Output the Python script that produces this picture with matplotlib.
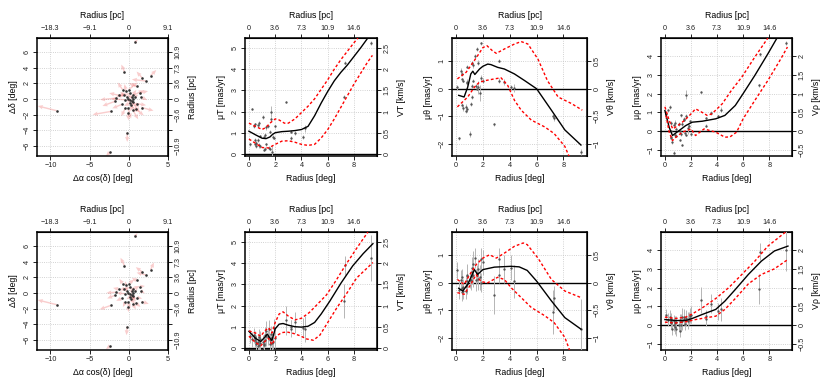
import numpy as np
import matplotlib
matplotlib.use("Agg")
import matplotlib.pyplot as plt

plt.rcParams['font.family'] = ['Liberation Sans', 'DejaVu Sans']

# --- star positions on the sky [deg] ---
dx = [0.8, -0.55, 1.7, 2.8, 2.2, -9.2, -2.3, -0.2, -2.4,
      -0.8, -0.35, 0.0, -1.2, 0.15, 0.6, 1.0, 1.45, 1.55, -1.65, -1.75,
      -0.45, -0.1, 0.2, 0.4, 0.5, 0.8, -0.9, -0.45, -0.1, 0.3,
      0.5, 0.9, 1.65, -0.1, 0.6, 0.2, -0.2, 0.35, -0.6, 1.0]
dy = [7.25, 3.5, 2.7, 3.0, 2.3, -1.5, -1.6, -4.3, -6.8,
      1.2, 1.0, 1.2, 0.45, 0.7, 0.5, 1.6, 0.8, 0.25, 0.1, -0.3,
      -0.1, 0.0, -0.1, -0.25, 0.05, 0.25, -0.7, -1.2, -1.2, -0.8,
      -1.4, -1.3, -1.1, -1.85, -0.4, -0.5, 0.3, 0.25, 0.5, -0.6]

# proper-motion arrows [deg], top row and bottom row
du1 = [0.35, -0.4, -0.7, 0.7, -1.8, -2.4, -2.3, 0.0, -0.5,
       -0.6, -0.2, 1.1, -1.3, -1.5, 1.3, -1.0, 1.0, 0.8, -2.0, -1.6,
       -1.8, 0.3, 1.2, 0.9, -0.7, 0.4, -1.2, -0.5, 0.4, 0.8,
       0.7, 1.0, 1.5, 0.1, -0.4, -0.8, -0.9, 0.6, -1.0, 1.2]
dv1 = [0.35, 0.9, 0.8, 0.7, 0.2, 0.6, -0.4, -1.2, -0.5,
       0.9, 0.9, 0.9, 0.3, -0.3, 0.6, 0.4, 0.2, -0.4, -0.2, -0.6,
       0.1, -0.6, -1.6, -0.8, 0.5, 0.3, -0.5, -1.0, -1.3, -0.9,
       -1.2, -0.8, -0.4, -0.9, -1.2, -0.4, 0.6, 0.9, -0.2, -0.2]
du2 = [0.3, -0.5, -0.8, 0.4, -1.2, -2.4, -1.4, -0.1, -0.5,
       -0.4, -0.1, 0.7, -0.8, -0.9, 0.8, -0.6, 0.6, 0.5, -1.2, -1.0,
       -1.1, 0.2, 0.7, 0.5, -0.4, 0.3, -0.7, -0.3, 0.3, 0.5,
       0.4, 0.6, 0.9, 0.1, -0.3, -0.5, -0.6, 0.4, -0.6, 0.7]
dv2 = [0.4, 1.0, 0.6, 0.9, 0.3, 0.6, -0.5, -1.1, -0.4,
       0.6, 0.5, 0.5, 0.2, -0.2, 0.4, 0.3, 0.1, -0.3, -0.1, -0.4,
       0.1, -0.4, -1.0, -0.5, 0.3, 0.2, -0.3, -0.6, -0.8, -0.6,
       -0.7, -0.5, -0.3, -0.6, -0.7, -0.3, 0.4, 0.6, -0.1, -0.1]

# --- per-star radius [deg] and proper-motion components [mas/yr] ---
rad = [7.3, 3.54, 3.19, 4.10, 3.18, 9.32, 2.80, 4.30, 7.21,
       1.44, 1.06, 1.20, 1.28, 0.72, 0.78, 1.89, 1.65, 1.57, 1.65, 1.78,
       0.46, 0.10, 0.22, 0.47, 0.50, 0.84, 1.14, 1.28, 1.20, 0.85,
       1.49, 1.58, 1.98, 1.85, 0.72, 0.54, 0.36, 0.43, 0.78, 1.17]

muT1 = [4.3, 1.0, 0.75, 0.8, 1.05, 5.25, 2.45, 1.2, 2.7,
        1.3, 1.75, 0.9, 0.45, 1.35, 0.4, 0.75, 2.0, 0.25, 1.65, 0.1,
        0.45, 0.45, 2.1, 1.4, 0.5, 0.35, 0.8, 1.25, 0.25, 0.85,
        0.3, 1.05, 1.3, 0.8, 0.65, 0.35, 1.3, 0.65, 1.45, 0.2]
muth1 = [-1.08, 0.25, 0.3, 0.05, 1.02, -2.3, -1.3, 0.02, -1.0,
         1.2, -1.65, 0.95, 0.3, -0.65, 0.25, 1.65, 0.05, 1.45, 0.95, -0.15,
         0.35, 0.05, -1.8, 0.55, -0.7, -0.75, -0.55, 0.85, -0.3, 0.8,
         0.1, 0.0, 0.3, 0.4, -0.8, 0.3, 0.65, -0.6, 0.2, 0.1]
murho1 = [4.1, 0.95, 0.3, 0.8, 0.7, 4.7, 2.1, 1.15, 2.45,
          0.6, 0.4, 0.85, -0.75, 0.35, -0.2, 0.55, 1.95, -0.1, 0.8, 0.15,
          -0.3, 0.9, 1.15, -0.35, 0.45, -0.25, 0.0, 0.4, -0.15, 0.1,
          0.65, -0.2, -0.15, 0.3, -1.15, -0.6, 1.3, 0.0, 0.45, -0.45]
err1 = [0.08, 0.1, 0.08, 0.08, 0.06, 0.1, 0.06, 0.15, 0.08,
        0.08, 0.1, 0.08, 0.06, 0.08, 0.1, 0.06, 0.25, 0.08, 0.1, 0.3,
        0.06, 0.08, 0.05, 0.08, 0.1, 0.08, 0.06, 0.1, 0.08, 0.06,
        0.08, 0.06, 0.08, 0.1, 0.08, 0.06, 0.1, 0.08, 0.12, 0.06]

muT2 = [3.9, 1.2, 0.9, 0.95, 1.0, 4.25, 1.3, 0.9, 2.2,
        0.5, 0.3, 0.6, 0.8, 0.3, 0.15, 0.95, 0.45, 0.2, 0.65, 0.25,
        0.5, 0.55, 0.4, 0.35, 0.2, 0.4, 0.2, 0.55, 0.35, 0.25,
        0.9, 0.35, 0.45, 0.3, 0.1, 0.3, 0.6, 0.45, 0.5, 0.15]
muth2 = [-0.55, 0.5, 0.85, 0.55, 0.3, -1.7, -0.45, 0.05, -1.05,
         0.9, 0.1, 0.55, 0.3, -0.1, 0.05, 0.85, 0.5, 0.3, 0.15, 0.2,
         -0.2, 0.45, -0.25, 0.2, -0.3, 0.3, 0.1, 0.7, 0.25, -0.05,
         0.1, 0.35, 0.75, 0.0, -0.3, -0.15, 0.1, -0.35, 0.25, 0.4]
murho2 = [3.9, 1.15, 0.35, 0.75, 0.5, 4.0, 1.35, 0.85, 1.95,
          0.35, 0.0, 0.2, 0.45, 0.25, -0.1, 0.5, 0.3, 0.05, 0.4, 0.25,
          0.15, 0.55, 0.3, 0.1, 0.35, -0.2, -0.3, 0.2, 0.0, 0.15,
          0.45, 0.3, 0.55, 0.35, 0.0, -0.2, 0.45, 0.2, 0.1, 0.3]
err2 = [0.45, 0.5, 0.4, 0.45, 0.3, 1.1, 0.7, 0.6, 0.8,
        0.35, 0.3, 0.4, 0.45, 0.3, 0.35, 0.4, 0.35, 0.3, 0.4, 0.45,
        0.3, 0.3, 0.35, 0.3, 0.3, 0.4, 0.35, 0.45, 0.3, 0.35,
        0.4, 0.3, 0.45, 0.35, 0.3, 0.3, 0.35, 0.3, 0.4, 0.3]

# --- model curves (median, upper, lower) ---
T1_x = [0.0, 0.5, 1.0, 1.3, 1.6, 1.8, 2.0, 2.5, 3.0, 3.5, 4.0, 4.5, 5.0, 5.5, 6.0, 6.5, 7.0, 7.5, 8.0, 8.5, 9.05]
T1_y = [1.07, 0.9, 0.74, 0.72, 0.8, 0.92, 1.0, 1.05, 1.07, 1.1, 1.15, 1.3, 1.8, 2.4, 2.95, 3.45, 3.85, 4.2, 4.6, 5.0, 5.47]
T1u_x = [0.0, 0.5, 1.0, 1.3, 1.6, 2.0, 2.3, 2.7, 3.0, 3.5, 4.0, 4.5, 5.0, 5.5, 6.0, 6.5, 7.0, 7.5, 8.0, 8.3]
T1u_y = [1.45, 1.3, 1.15, 1.25, 1.45, 1.65, 1.6, 1.45, 1.45, 1.65, 1.95, 2.25, 2.6, 3.05, 3.5, 4.0, 4.45, 4.85, 5.25, 5.47]
T1l_x = [0.0, 0.5, 1.0, 1.5, 2.0, 2.5, 3.0, 3.5, 4.0, 4.5, 5.0, 5.5, 6.0, 6.5, 7.0, 7.5, 8.0, 8.5, 9.0, 9.4]
T1l_y = [0.7, 0.5, 0.3, 0.28, 0.45, 0.6, 0.62, 0.55, 0.45, 0.4, 0.45, 0.75, 1.15, 1.65, 2.2, 2.75, 3.3, 3.8, 4.3, 4.65]

th1_x = [0.2, 0.6, 0.87, 1.1, 1.25, 1.4, 1.75, 2.0, 2.36, 2.6, 3.1, 3.6, 4.35, 5.1, 6.0, 7.1, 8.1, 9.3]
th1_y = [-0.24, -0.3, 0.06, 0.54, 0.64, 0.52, 0.72, 0.82, 0.9, 0.88, 0.78, 0.72, 0.54, 0.3, 0.0, -0.78, -1.5, -2.05]
th1u_x = [0.1, 0.75, 1.1, 1.6, 2.0, 2.3, 2.7, 3.0, 3.6, 4.35, 4.85, 5.35, 6.1, 6.8, 7.6, 8.6, 9.4]
th1u_y = [0.36, 0.6, 0.84, 1.2, 1.5, 1.57, 1.39, 1.29, 1.45, 1.63, 1.72, 1.63, 1.08, 0.3, -0.3, -0.54, -0.78]
th1l_x = [0.1, 0.87, 1.37, 1.74, 2.2, 2.86, 3.35, 3.85, 4.35, 4.85, 5.6, 6.6, 7.3, 8.1, 8.45]
th1l_y = [-0.66, -0.3, 0.06, 0.24, 0.3, 0.36, 0.4, 0.12, -0.42, -0.78, -1.14, -1.39, -1.63, -2.1, -2.5]

rh1_x = [0.0, 0.33, 0.58, 1.1, 1.6, 2.1, 2.86, 3.9, 4.6, 5.4, 6.0, 6.9, 7.9, 8.6]
rh1_y = [1.1, 0.2, -0.23, 0.04, 0.3, 0.48, 0.53, 0.66, 0.84, 1.37, 2.0, 2.97, 4.12, 4.96]
rh1u_x = [0.0, 0.33, 0.6, 1.0, 1.5, 2.0, 2.35, 2.86, 3.24, 3.6, 4.4, 5.1, 5.9, 6.9, 7.9]
rh1u_y = [1.3, 0.57, 0.12, 0.3, 0.57, 0.92, 1.19, 1.0, 0.84, 0.92, 1.46, 2.17, 2.88, 3.95, 4.96]
rh1l_x = [0.08, 0.33, 0.58, 0.84, 1.34, 1.7, 2.0, 2.35, 3.0, 3.9, 4.6, 5.0, 5.5, 6.0, 6.9, 7.9, 8.9, 9.4]
rh1l_y = [0.84, -0.05, -0.5, -0.32, -0.05, 0.04, 0.12, -0.23, 0.12, -0.05, -0.32, -0.3, -0.05, 0.66, 1.64, 2.7, 3.86, 4.48]

T2_x = [0.0, 0.5, 0.9, 1.2, 1.4, 1.6, 1.75, 2.0, 2.3, 2.6, 3.0, 3.5, 4.0, 4.5, 5.0, 5.5, 6.15, 7.0, 7.9, 8.7, 9.44]
T2_y = [0.78, 0.45, 0.3, 0.5, 0.65, 0.45, 0.35, 0.9, 1.12, 1.15, 1.07, 1.0, 0.98, 1.02, 1.2, 1.6, 2.2, 3.05, 3.87, 4.45, 4.92]
T2u_x = [0.0, 0.5, 0.9, 1.2, 1.5, 1.75, 2.0, 2.3, 2.6, 3.0, 3.5, 4.0, 4.6, 5.2, 5.9, 6.6, 7.4, 8.2, 9.06]
T2u_y = [0.8, 0.7, 0.55, 0.8, 0.95, 0.7, 1.2, 1.6, 1.7, 1.5, 1.32, 1.4, 1.67, 2.05, 2.5, 3.15, 3.95, 4.7, 5.47]
T2l_x = [0.0, 0.5, 0.9, 1.2, 1.5, 1.75, 2.1, 2.5, 2.9, 3.4, 3.9, 4.4, 4.9, 5.4, 6.0, 6.7, 7.4, 8.2, 9.44]
T2l_y = [0.55, 0.25, 0.1, 0.3, 0.45, 0.15, 0.57, 0.72, 0.75, 0.68, 0.57, 0.42, 0.36, 0.6, 1.2, 1.9, 2.53, 3.3, 4.03]

th2_x = [0.2, 0.5, 0.87, 1.37, 1.6, 2.0, 2.86, 4.1, 4.7, 5.3, 6.0, 7.1, 8.1, 9.3]
th2_y = [-0.2, -0.3, -0.06, 0.48, 0.3, 0.48, 0.57, 0.6, 0.58, 0.45, 0.06, -0.66, -1.27, -1.69]
th2u_x = [0.1, 0.6, 1.1, 1.5, 2.0, 2.5, 3.0, 3.6, 4.35, 5.0, 5.3, 6.1, 7.1, 8.1, 9.3]
th2u_y = [0.12, -0.06, 0.36, 0.66, 0.9, 1.02, 0.9, 1.08, 1.33, 1.45, 1.39, 0.9, 0.12, -0.3, -0.54]
th2l_x = [0.1, 0.6, 1.1, 1.5, 1.86, 2.36, 3.1, 3.6, 4.1, 4.85, 5.6, 6.6, 7.3, 8.1, 8.45]
th2l_y = [-0.36, -0.42, -0.06, 0.3, 0.04, 0.0, 0.2, 0.12, -0.18, -0.54, -0.9, -1.2, -1.45, -1.99, -2.45]

rh2_x = [0.0, 0.84, 1.6, 2.1, 2.86, 3.9, 4.6, 5.4, 6.4, 7.4, 8.4, 9.44]
rh2_y = [0.3, 0.25, 0.25, 0.36, 0.57, 0.84, 1.28, 1.9, 2.7, 3.41, 3.95, 4.21]
rh2u_x = [0.0, 0.84, 1.6, 2.1, 2.86, 3.9, 4.9, 5.9, 6.9, 7.9, 9.3]
rh2u_y = [0.43, 0.36, 0.43, 0.6, 0.92, 1.42, 2.0, 2.7, 3.41, 4.21, 4.98]
rh2l_x = [0.0, 0.84, 1.6, 2.35, 3.1, 3.9, 4.6, 5.4, 6.4, 7.4, 8.4, 9.44]
rh2l_y = [0.16, 0.12, 0.18, 0.3, 0.39, 0.48, 0.84, 1.42, 2.2, 2.7, 3.0, 3.5]

# axis tick labels
sky_x_ticks = [-10, -5, 0, 5]
sky_x_pc = ['−18.3', '−9.1', '0', '9.1']
sky_y_ticks = [-6, -4, -2, 0, 2, 4, 6]
sky_y_pc = ['−10.9', '', '−3.6', '0', '3.6', '7.3', '10.9']
rad_ticks = [0, 2, 4, 6, 8]
rad_pc = ['0', '3.6', '7.3', '10.9', '14.6']

W, H = 830, 388
fig = plt.figure(figsize=(W / 100, H / 100), dpi=100)
cols = [(37, 168), (245, 377), (452, 587), (661, 792)]
rows = [(38, 156), (232, 350)]
FS_TICK = 5.2
FS_LAB = 6.3
TICK_KW = dict(length=2.8, width=0.7, pad=1.8, labelsize=FS_TICK, colors='#222222')


def make_ax(col, row):
    l, r = cols[col]
    t, b = rows[row]
    ax = fig.add_axes([l / W, 1 - b / H, (r - l) / W, (b - t) / H])
    for s in ax.spines.values():
        s.set_linewidth(1.1)
    ax.tick_params(**TICK_KW)
    ax.grid(True, ls=':', color='#c4c4c4', lw=0.6)
    ax.set_axisbelow(True)
    return ax


def decorate(ax, xt, xtl, yt, ytl, ylab, rlab, xlab):
    ax.set_xticks(xt)
    ax.set_xticklabels([str(v).replace('-', '−') for v in xt])
    for lab in ax.get_yticklabels():
        lab.set_rotation(90)
        lab.set_va('center')
    sec = ax.secondary_xaxis('top')
    sec.set_xticks(xt, labels=xtl)
    sec.tick_params(**TICK_KW)
    sec.set_xlabel('Radius [pc]', fontsize=FS_LAB, labelpad=5)
    secy = ax.secondary_yaxis('right')
    secy.set_yticks(yt, labels=ytl)
    secy.tick_params(**TICK_KW)
    for lab in secy.get_yticklabels():
        lab.set_rotation(90)
        lab.set_va('center')
    secy.set_ylabel(rlab, fontsize=FS_LAB, labelpad=5)
    ax.set_xlabel(xlab, fontsize=FS_LAB, labelpad=3)
    ax.set_ylabel(ylab, fontsize=FS_LAB, labelpad=4)


def sky_panel(row, du, dv):
    ax = make_ax(0, row)
    ax.quiver(dx, dy, du, dv, angles='xy', scale_units='xy', scale=1,
              color=(0.92, 0.3, 0.3, 0.28), width=0.011, headwidth=3,
              headlength=3.5, headaxislength=3.2, zorder=2)
    ax.scatter(dx, dy, s=3.5, color='#333333', zorder=3, linewidths=0)
    ax.set_xlim(-11.7, 5)
    ax.set_ylim(-7.3, 7.8)
    ax.set_yticks(sky_y_ticks)
    ax.set_yticklabels([str(v).replace('-', '−') for v in sky_y_ticks])
    decorate(ax, sky_x_ticks, sky_x_pc, sky_y_ticks, sky_y_pc,
             'Δδ [deg]', 'Radius [pc]', 'Δα cos(δ) [deg]')


def radial_panel(col, row, vals, errs, curves, ylim, yt, vt, sym):
    ax = make_ax(col, row)
    ax.axhline(0, color='black', lw=1.0, zorder=2)
    ax.errorbar(rad, vals, yerr=errs, fmt='o', ms=1.7, mfc='#555555',
                mec='#555555', mew=0, ecolor='#b5b5b5', elinewidth=0.7,
                capsize=1.8, capthick=0.7, zorder=3)
    (mx, my), (ux, uy), (lx, ly) = curves
    ax.plot(mx, my, color='black', lw=1.0, zorder=4)
    ax.plot(ux, uy, color='red', lw=1.0, ls=(0, (2, 1.6)), zorder=4)
    ax.plot(lx, ly, color='red', lw=1.0, ls=(0, (2, 1.6)), zorder=4)
    ax.set_xlim(-0.3, 9.75)
    ax.set_ylim(*ylim)
    ax.set_yticks(yt)
    ax.set_yticklabels([str(v).replace('-', '−') for v in yt])
    vlabels = [('%g' % (v / 2)).replace('-', '−') for v in vt]
    decorate(ax, rad_ticks, rad_pc, vt, vlabels,
             'μ%s [mas/yr]' % sym, 'V%s [km/s]' % sym, 'Radius [deg]')


for row, (du, dv) in enumerate([(du1, dv1), (du2, dv2)]):
    sky_panel(row, du, dv)

radial_panel(1, 0, muT1, err1, [(T1_x, T1_y), (T1u_x, T1u_y), (T1l_x, T1l_y)],
             (-0.1, 5.47), [0, 1, 2, 3, 4, 5], [0, 1, 2, 3, 4, 5], 'T')
radial_panel(2, 0, muth1, err1, [(th1_x, th1_y), (th1u_x, th1u_y), (th1l_x, th1l_y)],
             (-2.45, 1.85), [-2, -1, 0, 1], [-2, -1, 0, 1], 'θ')
radial_panel(3, 0, murho1, err1, [(rh1_x, rh1_y), (rh1u_x, rh1u_y), (rh1l_x, rh1l_y)],
             (-1.32, 4.96), [-1, 0, 1, 2, 3, 4], [-1, 0, 1, 2, 3, 4], 'ρ')
radial_panel(1, 1, muT2, err2, [(T2_x, T2_y), (T2u_x, T2u_y), (T2l_x, T2l_y)],
             (-0.1, 5.47), [0, 1, 2, 3, 4, 5], [0, 1, 2, 3, 4, 5], 'T')
radial_panel(2, 1, muth2, err2, [(th2_x, th2_y), (th2u_x, th2u_y), (th2l_x, th2l_y)],
             (-2.45, 1.85), [-2, -1, 0, 1], [-2, -1, 0, 1], 'θ')
radial_panel(3, 1, murho2, err2, [(rh2_x, rh2_y), (rh2u_x, rh2u_y), (rh2l_x, rh2l_y)],
             (-1.32, 4.96), [-1, 0, 1, 2, 3, 4], [-1, 0, 1, 2, 3, 4], 'ρ')

fig.savefig('out.png', dpi=100)
